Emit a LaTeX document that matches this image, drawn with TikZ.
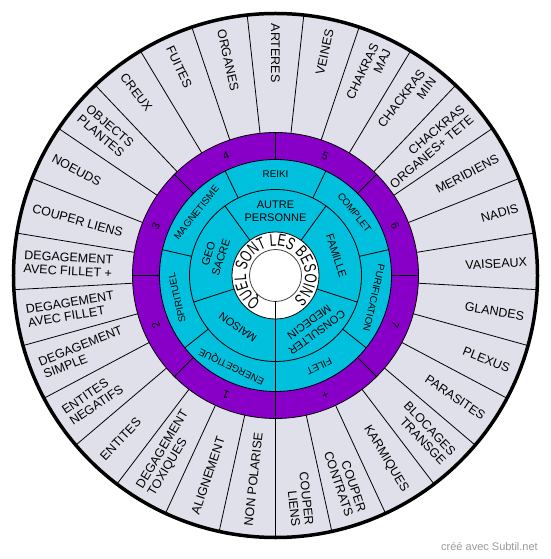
\documentclass[tikz,border=0pt]{standalone}
\usepackage{fontspec}
\setmainfont{Liberation Sans}
\newfontfamily\narrowsans{Liberation Sans}[FakeStretch=0.7]
\usetikzlibrary{decorations.text}
\definecolor{ringgrey}{RGB}{224,224,234}
\definecolor{ringpurple}{RGB}{136,0,200}
\definecolor{ringcyan}{RGB}{0,192,222}
\begin{document}
\begin{tikzpicture}[x=1pt,y=1pt,line join=round,
		spoke/.style={line width=0.8pt},
		outlabel/.style={font=\fontsize{12.5}{13.5}\selectfont,inner sep=0pt},
		numlabel/.style={font=\fontsize{11}{11}\selectfont,inner sep=0pt},
		cyanlabel/.style={font=\fontsize{9.8}{10}\selectfont,inner sep=0pt},
		midlabel/.style={font=\fontsize{11}{13}\selectfont,inner sep=0pt,align=center}]
	\useasboundingbox (-275.5,-283.5) rectangle (274.5,275.5) ;
	\coordinate (O) at (0,0) ;
	\fill[ringgrey] (O) circle[radius=262pt] ;
	\foreach \k in {0,...,28} \draw[spoke] ({83.793-12.4138*\k}:143) -- ({83.793-12.4138*\k}:262) ;
	\foreach \Text [count=\k from 0] in {ARTERES,VEINES,{CHAKRAS\\MAJ},{CHACKRAS\\MIN},{CHACKRAS\\ORGANES+ TETE},MERIDIENS,NADIS,VAISEAUX,GLANDES,PLEXUS,PARASITES,{BLOCAGES\\TRANSGE},KARMIQUES,{COUPER\\CONTRATS},{COUPER\\LIENS},NON POLARISE,ALIGNEMENT,{DEGAGEMENT\\TOXIQUES},ENTITES,{ENTITES\\NEGATIFS},{DEGAGEMENT\\SIMPLE},{DEGAGEMENT\\AVEC FILLET},{DEGAGEMENT\\AVEC FILLET +},COUPER LIENS,NOEUDS,{OBJECTS\\PLANTES},CREUX,FUITES,ORGANES} {
		\pgfmathsetmacro\Ang{90-12.4138*\k}
		\pgfmathtruncatemacro\Right{and(\k>0,\k<15)}
		\ifnum\Right=1
			\node[outlabel,anchor=east,align=right,rotate=\Ang] (out-\k) at (\Ang:252) {\Text} ;
		\else
			\node[outlabel,anchor=west,align=left,rotate=\Ang+180] (out-\k) at (\Ang:252) {\Text} ;
		\fi
	}
	\filldraw[spoke,fill=ringpurple] (O) circle[radius=143pt] ;
	\foreach \k in {0,...,7} \draw[spoke] (45*\k:116) -- (45*\k:143) ;
	\foreach \Num [count=\j from 0] in {6,5,4,3,2,1,+,7} \node[numlabel,rotate=22.5+45*\j-90] (num-\j) at (22.5+45*\j:129.5) {\Num} ;
	\filldraw[spoke,fill=ringcyan] (O) circle[radius=116pt] ;
	\draw[spoke] (O) circle[radius=86pt] ;
	\foreach \k in {0,...,6} \draw[spoke] ({-90+51.4286*\k}:86) -- ({-90+51.4286*\k}:116) ;
	\foreach \k in {0,...,4} \draw[spoke] (-90+72*\k:43.5) -- (-90+72*\k:86) ;
	\foreach \Text [count=\j from 0] in {REIKI,COMPLET,PURIFICATION,FILET,ENERGETIQUE,SPIRITUEL,MAGNETISME} \node[cyanlabel,rotate={-51.4286*\j}] (act-\j) at ({90-51.4286*\j}:101) {\Text} ;
	\foreach \Text [count=\j from 0] in {{AUTRE\\PERSONNE},FAMILLE,{CONSULTER\\MEDECIN},MAISON,{GEO\\SACRE}} \node[midlabel,rotate=-72*\j] (who-\j) at (90-72*\j:64) {\Text} ;
	\filldraw[spoke,fill=white] (O) circle[radius=43.5pt] ;
	\draw[spoke,draw=black!75] (O) circle[radius=26pt] ;
	\draw[spoke] (270:26) -- (270:143) ;
	\path[decorate,decoration={text along path,text align=center,text={|\narrowsans\fontsize{17}{17}\selectfont|QUEL SONT LES BESOINS}}] (244:29.5) arc[start angle=244,end angle=-56,radius=29.5pt] ;
	\draw[line width=3.5pt] (O) circle[radius=262pt] ;
	\node[anchor=east,inner sep=0pt,text=black!40,font=\fontsize{11}{11}\selectfont] (credit) at (262.5,-271.5) {créé avec Subtil.net} ;
\end{tikzpicture}
\end{document}
